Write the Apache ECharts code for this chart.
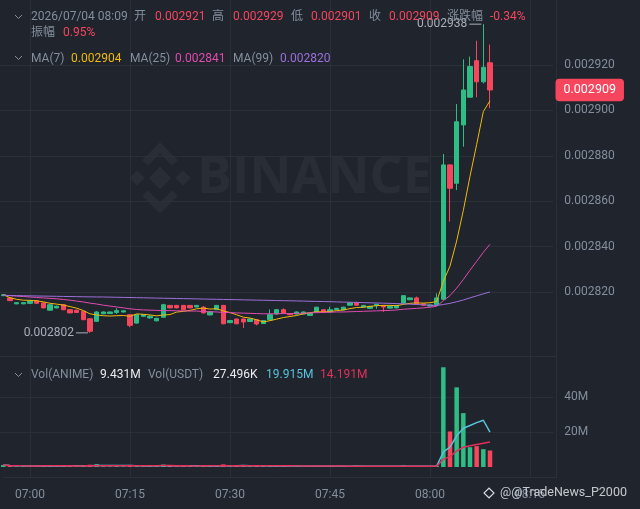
<!DOCTYPE html>
<html><head><meta charset="utf-8">
<script src="https://cdn.jsdelivr.net/npm/echarts@6/dist/echarts.min.js"></script>
<style>html,body{margin:0;padding:0;background:#1f242d;}#c{width:640px;height:509px;}</style>
</head><body><div id="c"></div>
<script>
const categories = ["06:56","06:57","06:58","06:59",
"07:00","07:01","07:02","07:03","07:04","07:05","07:06","07:07","07:08","07:09",
"07:10","07:11","07:12","07:13","07:14","07:15","07:16","07:17","07:18","07:19",
"07:20","07:21","07:22","07:23","07:24","07:25","07:26","07:27","07:28","07:29",
"07:30","07:31","07:32","07:33","07:34","07:35","07:36","07:37","07:38","07:39",
"07:40","07:41","07:42","07:43","07:44","07:45","07:46","07:47","07:48","07:49",
"07:50","07:51","07:52","07:53","07:54","07:55","07:56","07:57","07:58","07:59",
"08:00","08:01","08:02","08:03","08:04","08:05","08:06","08:07","08:08","08:09",
"08:10","08:11","08:12","08:13","08:14","08:15","08:16","08:17","08:18","08:19"];

const openP = [0.0028184,0.0028174,0.0028148,0.0028148,0.002815,0.0028162,0.0028152,0.002812,0.002813,0.0028144,
0.0028122,0.002812,0.0028115,0.0028082,0.0028071,0.0028104,0.0028105,0.002811,0.0028112,0.00281,
0.0028063,0.0028093,0.0028086,0.0028073,0.0028089,0.0028141,0.0028141,0.0028141,0.0028141,0.0028134,
0.0028133,0.0028099,0.0028122,0.0028141,0.0028065,0.0028081,0.0028081,0.002807,0.0028078,0.0028061,
0.0028078,0.0028103,0.0028122,0.0028102,0.0028103,0.0028103,0.0028097,0.0028112,0.0028122,0.0028112,
0.0028123,0.0028121,0.0028142,0.0028152,0.0028134,0.0028128,0.002814,0.0028141,0.0028129,0.002813,
0.0028151,0.0028166,0.0028174,0.0028148,0.0028138,0.0028144,0.0028168,0.002876,0.0028679,0.0028936,
0.0029058,0.0029219,0.0029126,0.002921];
const closeP = [0.0028188,0.0028162,0.0028153,0.0028153,0.002816,0.002815,0.002813,0.0028144,0.0028137,0.0028122,
0.0028108,0.002811,0.0028078,0.0028027,0.0028112,0.0028112,0.0028112,0.0028118,0.0028117,0.0028053,
0.00281,0.00281,0.0028093,0.0028084,0.0028144,0.002813,0.002813,0.0028122,0.002813,0.0028141,
0.0028108,0.0028113,0.0028141,0.002806,0.0028074,0.002806,0.0028068,0.0028081,0.0028059,0.0028074,
0.00281,0.0028122,0.0028108,0.00281,0.0028112,0.0028112,0.0028106,0.0028133,0.0028112,0.0028122,
0.0028128,0.0028133,0.0028152,0.0028142,0.0028141,0.0028137,0.0028146,0.0028134,0.0028136,0.0028141,
0.0028184,0.0028174,0.0028148,0.0028142,0.0028143,0.0028174,0.002876,0.0028657,0.002895,0.002909,
0.0029193,0.0029126,0.002919,0.002909];
const lowP = [0.0028182,0.002816,0.0028146,0.0028146,0.0028148,0.0028148,0.0028128,0.0028118,0.0028128,0.002812,
0.0028106,0.0028108,0.0028076,0.002802,0.0028069,0.0028102,0.0028103,0.0028103,0.002811,0.0028045,
0.0028061,0.0028091,0.0028082,0.0028071,0.0028087,0.0028128,0.0028128,0.002812,0.0028128,0.0028132,
0.0028105,0.0028097,0.002812,0.0028058,0.0028063,0.0028058,0.0028041,0.0028068,0.0028053,0.0028059,
0.0028076,0.0028101,0.0028106,0.0028098,0.0028101,0.0028101,0.0028095,0.002811,0.002811,0.002811,
0.0028121,0.0028119,0.002814,0.002814,0.0028132,0.0028126,0.0028126,0.0028112,0.0028127,0.0028128,
0.0028149,0.0028164,0.0028146,0.002814,0.0028136,0.0028142,0.0028165,0.002851,0.0028649,0.002884,
0.0029055,0.0029058,0.0029119,0.002901];
const highP = [0.002819,0.0028176,0.0028155,0.0028154,0.0028162,0.0028164,0.0028154,0.0028146,0.002814,0.0028146,
0.0028124,0.0028122,0.0028117,0.0028084,0.0028116,0.0028114,0.0028114,0.0028128,0.0028119,0.0028102,
0.0028102,0.0028102,0.0028098,0.0028086,0.0028148,0.0028143,0.0028143,0.0028143,0.0028143,0.0028143,
0.0028138,0.0028115,0.0028143,0.0028143,0.0028076,0.0028083,0.0028083,0.0028083,0.002808,0.0028076,
0.0028123,0.0028124,0.0028128,0.0028104,0.0028114,0.0028114,0.0028108,0.0028135,0.0028124,0.0028135,
0.002813,0.0028135,0.0028154,0.0028158,0.0028143,0.0028139,0.0028148,0.0028143,0.0028138,0.0028143,
0.0028186,0.0028176,0.002818,0.002815,0.0028145,0.0028194,0.0028808,0.0028762,0.0029028,0.0029225,
0.0029237,0.0029307,0.002938,0.002929];

const ma25 = [0.0028186,0.0028184,0.0028182,0.002818,0.0028178,0.0028176,0.0028174,0.0028172,0.002817,0.0028167,
0.0028164,0.002816,0.0028156,0.0028151,0.0028147,0.0028142,0.0028138,0.0028134,0.002813,0.0028126,
0.0028123,0.0028121,0.002812,0.0028119,0.0028118,0.0028118,0.0028117,0.0028117,0.0028116,0.0028116,
0.0028114,0.0028113,0.0028112,0.002811,0.0028109,0.0028108,0.0028107,0.0028106,0.0028105,0.0028104,
0.0028104,0.0028104,0.0028105,0.0028105,0.0028106,0.0028107,0.0028108,0.0028109,0.002811,0.0028111,
0.0028112,0.0028112,0.0028113,0.0028114,0.0028115,0.0028116,0.0028117,0.0028118,0.0028119,0.0028121,
0.0028124,0.0028126,0.0028128,0.002813,0.0028133,0.0028137,0.0028162,0.0028184,0.0028217,0.0028255,
0.0028296,0.0028335,0.0028375,0.002841];
const ma99 = [0.0028185,0.00281845,0.0028184,0.00281835,0.0028183,0.00281825,0.0028182,0.00281815,0.0028181,0.00281805,
0.002818,0.00281795,0.0028179,0.00281785,0.00281782,0.0028178,0.00281774,0.00281768,0.00281762,0.00281756,
0.0028175,0.00281744,0.00281738,0.00281732,0.00281726,0.0028172,0.00281714,0.00281708,0.00281702,0.00281696,
0.0028169,0.00281684,0.00281678,0.00281672,0.00281666,0.0028166,0.00281654,0.00281648,0.00281642,0.00281636,
0.0028163,0.00281624,0.00281618,0.00281612,0.00281606,0.002816,0.00281593,0.00281586,0.0028158,0.00281572,
0.00281564,0.00281556,0.00281548,0.0028154,0.00281532,0.00281524,0.00281516,0.00281508,0.002815,0.0028149,
0.0028148,0.00281465,0.0028145,0.00281435,0.0028142,0.00281405,0.0028145,0.002815,0.0028157,0.0028165,
0.0028174,0.0028183,0.0028192,0.00282];

const volume = [1.1e6,0.6e6,0.4e6,0.5e6,0.5e6,0.7e6,0.9e6,0.8e6,0.4e6,0.6e6,
0.7e6,0.5e6,0.9e6,1.3e6,1.6e6,0.5e6,0.4e6,0.6e6,0.4e6,1.2e6,
0.8e6,0.4e6,0.5e6,0.6e6,1.4e6,0.6e6,0.5e6,0.7e6,0.5e6,0.4e6,
0.9e6,0.6e6,0.8e6,1.5e6,0.5e6,0.7e6,0.8e6,0.5e6,0.7e6,0.5e6,
0.8e6,0.6e6,0.5e6,0.3e6,0.4e6,0.4e6,0.4e6,0.7e6,0.5e6,0.5e6,
0.3e6,0.5e6,0.6e6,0.5e6,0.4e6,0.4e6,0.3e6,0.5e6,0.3e6,0.4e6,
0.9e6,0.4e6,0.6e6,0.4e6,0.3e6,0.6e6,57.0e6,20.3e6,45.5e6,30.8e6,
11.3e6,11.9e6,10.2e6,9.431e6];

const priceTicks = {min:0.0028, max:0.00294, interval:0.00002};
const volTicks = {min:0, max:60e6, interval:20e6};
const headerChange = '-0.34%';
const headerAmp = '0.95%';
const headerVolUsdt = '27.496K';
const headerVolMa = ['19.915M','14.191M'];
const timeLabel = '2026/07/04 08:09';
const watermarkText = '@TradeNews_P2000';

const BG='#1f242d', GRIDC='#2a2f38', TXT='#848e9c', UP='#2ebd85', DOWN='#f6465d';
const FONT='Roboto, "Noto Sans CJK SC", sans-serif';
const C_MA7='#f0b90b', C_MA25='#e04bb0', C_MA99='#9d6fdc', C_VMA1='#5bc2dc', C_VMA2='#e2305a';
const WM='rgba(255,255,255,0.045)';

function movingAvg(arr,n){return arr.map((v,i)=>{const s=Math.max(0,i-n+1);let t=0;for(let k=s;k<=i;k++)t+=arr[k];return t/(i-s+1);});}
const ma7 = movingAvg(closeP,7);
const vma7 = movingAvg(volume,7);
const vma14 = movingAvg(volume,14);
const candles = openP.map((o,i)=>[o,closeP[i],lowP[i],highP[i]]);
const volData = volume.map((v,i)=>({value:v,itemStyle:{color:closeP[i]>=openP[i]?UP:DOWN}}));
const last = openP.length-1;
const candCats = categories.slice(0,83);
const isTick = (i,v)=>/:(00|15|30|45)$/.test(v);

function txt(x,y,t,c){return {type:'text',x:x,y:y,z:100,style:{text:t,fill:c,fontSize:12,fontFamily:FONT,verticalAlign:'middle'}};}
function chev(x,y){return {type:'polyline',z:100,shape:{points:[[x,y-2],[x+3.5,y+1.5],[x+7,y-2]]},style:{stroke:TXT,lineWidth:1,fill:null}};}

const graphics = [
  {type:'text',x:197,y:178,z:0,style:{text:'BINANCE',fill:WM,fontSize:52,fontWeight:'bold',fontFamily:'"Open Sans", sans-serif',verticalAlign:'middle'}},
  {type:'rect',x:160,y:178,rotation:Math.PI/4,z:0,shape:{x:-8,y:-8,width:16,height:16},style:{fill:WM}},
  {type:'rect',x:137,y:178,rotation:Math.PI/4,z:0,shape:{x:-5.5,y:-5.5,width:11,height:11},style:{fill:WM}},
  {type:'rect',x:183,y:178,rotation:Math.PI/4,z:0,shape:{x:-5.5,y:-5.5,width:11,height:11},style:{fill:WM}},
  {type:'polyline',z:0,shape:{points:[[145,163],[160,148],[175,163]]},style:{stroke:WM,lineWidth:8,fill:null}},
  {type:'polyline',z:0,shape:{points:[[145,193],[160,208],[175,193]]},style:{stroke:WM,lineWidth:8,fill:null}},
  {type:'line',z:1,shape:{x1:0,y1:356.5,x2:556,y2:356.5},style:{stroke:GRIDC,lineWidth:1}},
  chev(15,17), txt(31,17,timeLabel,TXT),
  txt(134,17,'开',TXT), txt(155,17,openP[last].toFixed(6),DOWN),
  txt(212,17,'高',TXT), txt(233,17,highP[last].toFixed(6),DOWN),
  txt(291,17,'低',TXT), txt(311,17,lowP[last].toFixed(6),DOWN),
  txt(369,17,'收',TXT), txt(389,17,closeP[last].toFixed(6),DOWN),
  txt(447,17,'涨跌幅',TXT), txt(490,17,headerChange,DOWN),
  txt(31,33,'振幅',TXT), txt(63,33,headerAmp,DOWN),
  chev(15,58), txt(31,58.5,'MA(7)',TXT), txt(71,58.5,ma7[last].toFixed(6),C_MA7),
  txt(130,58.5,'MA(25)',TXT), txt(175,58.5,ma25[last].toFixed(6),C_MA25),
  txt(233,58.5,'MA(99)',TXT), txt(280,58.5,ma99[last].toFixed(6),C_MA99),
  chev(15,375), txt(31,375,'Vol(ANIME)',TXT), txt(100,375,(volume[last]/1e6).toFixed(3)+'M','#eaecef'),
  txt(148,375,'Vol(USDT)',TXT), txt(213,375,headerVolUsdt,'#eaecef'),
  txt(266,375,headerVolMa[0],C_VMA1), txt(320,375,headerVolMa[1],C_VMA2),
  {type:'rect',x:489,y:493,rotation:Math.PI/4,z:100,shape:{x:-3.5,y:-3.5,width:7,height:7},style:{fill:null,stroke:'#d8dbe0',lineWidth:1.2}},
  {type:'text',x:500,y:493,z:100,style:{text:'@'+watermarkText,fill:'rgba(225,228,233,0.85)',fontSize:12.5,fontFamily:FONT,verticalAlign:'middle'}}
];

const chart = echarts.init(document.getElementById('c'));
chart.setOption({
  backgroundColor: BG,
  animation: false,
  textStyle:{fontFamily:FONT},
  grid:[
    {left:3.33, top:0, width:553.33, height:477},
    {left:0, top:19.6, width:553.33, height:317.8},
    {left:0, top:362, width:553.33, height:105}
  ],
  xAxis:[
    {type:'category',gridIndex:0,data:categories,boundaryGap:false,
     axisLine:{show:true,lineStyle:{color:GRIDC}},axisTick:{show:false},
     axisLabel:{interval:isTick,color:TXT,fontSize:12,margin:12,fontFamily:FONT},
     splitLine:{show:true,interval:isTick,lineStyle:{color:GRIDC,width:1}}},
    {type:'category',gridIndex:1,data:candCats,boundaryGap:true,show:false},
    {type:'category',gridIndex:2,data:candCats,boundaryGap:true,show:false}
  ],
  yAxis:[
    {type:'value',gridIndex:0,min:0,max:1,position:'right',axisLine:{show:true,lineStyle:{color:GRIDC}},axisTick:{show:false},axisLabel:{show:false},splitLine:{show:false}},
    {type:'value',gridIndex:1,position:'right',min:priceTicks.min,max:priceTicks.max,interval:priceTicks.interval,
     axisLine:{show:false},axisTick:{show:false},
     axisLabel:{color:TXT,fontSize:12,margin:11,showMinLabel:false,showMaxLabel:false,formatter:v=>v.toFixed(6),fontFamily:FONT},
     splitLine:{show:true,showMinLine:false,showMaxLine:false,lineStyle:{color:GRIDC}}},
    {type:'value',gridIndex:2,position:'right',min:volTicks.min,max:volTicks.max,interval:volTicks.interval,
     axisLine:{show:false},axisTick:{show:false},
     axisLabel:{color:TXT,fontSize:12,margin:11,showMinLabel:false,showMaxLabel:false,formatter:v=>(v/1e6)+'M',fontFamily:FONT},
     splitLine:{show:true,showMinLine:false,showMaxLine:false,lineStyle:{color:GRIDC}}}
  ],
  series:[
    {type:'candlestick',xAxisIndex:1,yAxisIndex:1,data:candles,barWidth:5,
     itemStyle:{color:UP,color0:DOWN,borderColor:UP,borderColor0:DOWN,borderWidth:1},
     markPoint:{symbol:'rect',symbolSize:[12,1],silent:true,animation:false,
       itemStyle:{color:'#a9afb8'},
       label:{show:true,position:'left',distance:2,color:'#a9afb8',fontSize:12,fontFamily:FONT,formatter:p=>Number(p.value).toFixed(6)},
       data:[{type:'max',valueDim:'highest',symbolOffset:[-8,0]},{type:'min',valueDim:'lowest',symbolOffset:[-8,0]}]}},
    {type:'scatter',xAxisIndex:1,yAxisIndex:1,clip:false,silent:true,z:10,
     symbol:'rect',symbolSize:1,itemStyle:{color:'rgba(0,0,0,0)',opacity:1},
     data:[[candCats.length-1, closeP[last]]],
     label:{show:true,position:'right',distance:5,opacity:1,color:'#ffffff',backgroundColor:DOWN,borderRadius:4,padding:[5,8,5,8],fontSize:12.5,fontFamily:FONT,formatter:p=>p.value[1].toFixed(6)}},
    {type:'line',xAxisIndex:1,yAxisIndex:1,data:ma7,showSymbol:false,lineStyle:{color:C_MA7,width:1},z:3},
    {type:'line',xAxisIndex:1,yAxisIndex:1,data:ma25,showSymbol:false,lineStyle:{color:C_MA25,width:1},z:3},
    {type:'line',xAxisIndex:1,yAxisIndex:1,data:ma99,showSymbol:false,lineStyle:{color:C_MA99,width:1},z:3},
    {type:'bar',xAxisIndex:2,yAxisIndex:2,data:volData,barWidth:4.5},
    {type:'line',xAxisIndex:2,yAxisIndex:2,data:vma7,showSymbol:false,lineStyle:{color:C_VMA1,width:1.5},z:3},
    {type:'line',xAxisIndex:2,yAxisIndex:2,data:vma14,showSymbol:false,lineStyle:{color:C_VMA2,width:1.5},z:3}
  ],
  graphic: graphics
});
</script></body></html>
